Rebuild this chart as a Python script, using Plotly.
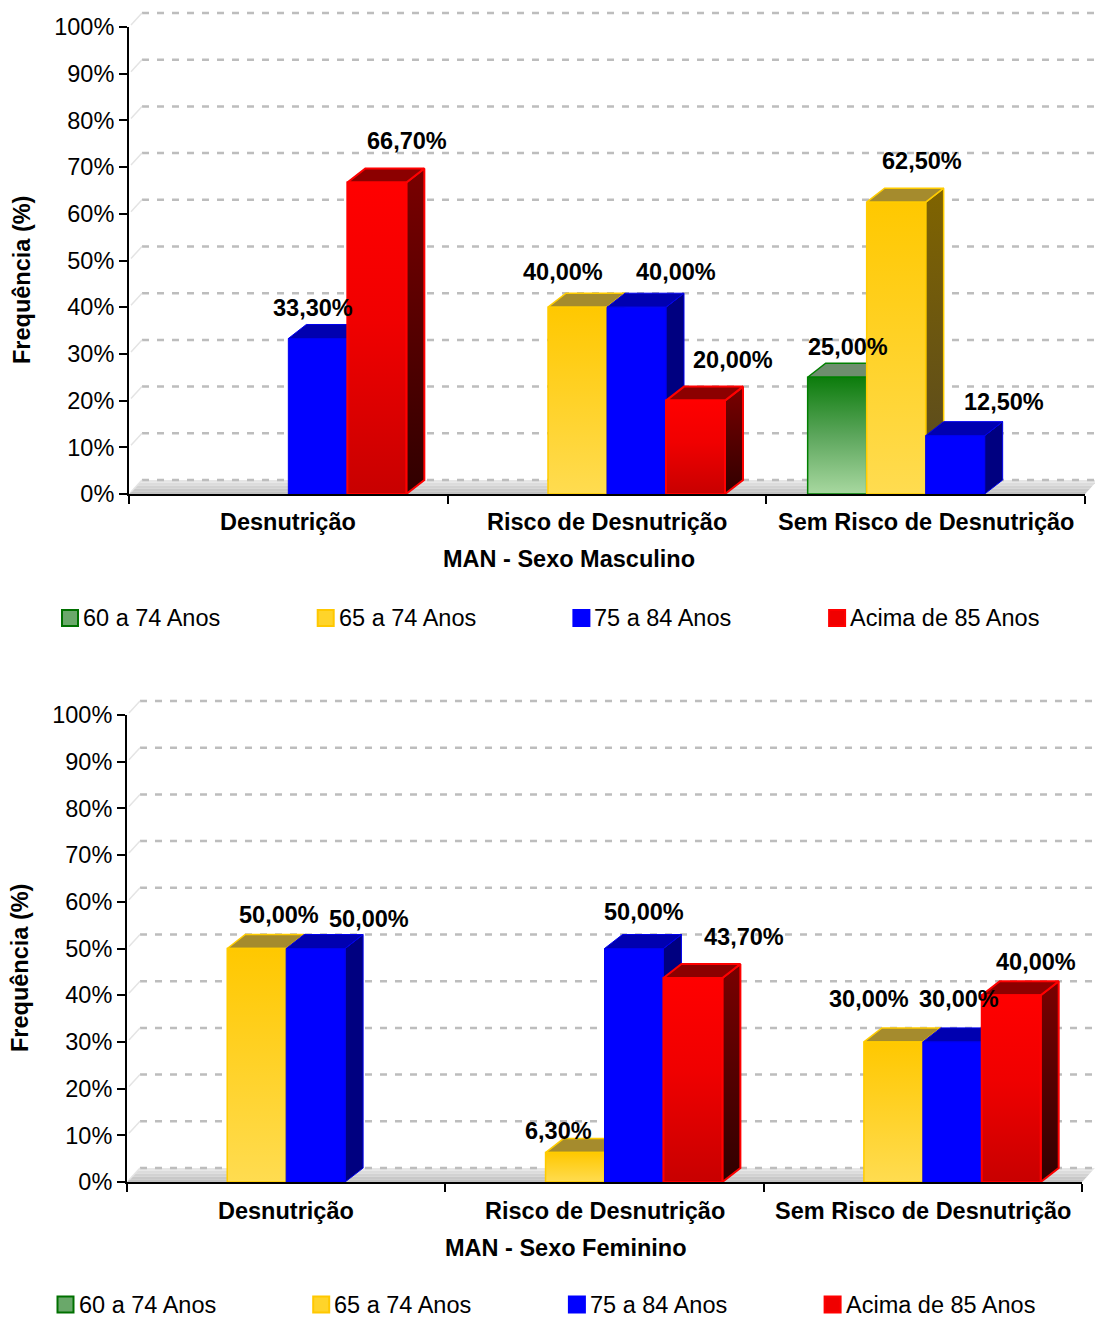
import plotly.graph_objects as go

W, H = 1095, 1318

# ---------------- data ----------------
categories = ["Desnutrição", "Risco de Desnutrição", "Sem Risco de Desnutrição"]
series_names = ["60 a 74 Anos", "65 a 74 Anos", "75 a 84 Anos", "Acima de 85 Anos"]
y_tick_values = [0, 10, 20, 30, 40, 50, 60, 70, 80, 90, 100]

masc_60_74 = [None, None, 25.0]
masc_65_74 = [None, 40.0, 62.5]
masc_75_84 = [33.3, 40.0, 12.5]
masc_85_mais = [66.7, 20.0, None]

fem_60_74 = [None, None, None]
fem_65_74 = [50.0, 6.3, 30.0]
fem_75_84 = [50.0, 50.0, 30.0]
fem_85_mais = [None, 43.7, 40.0]

# ---------------- styles ----------------
FONT = "Liberation Sans"
SERIES_STYLE = [
    dict(front=[[0, "#a8d8a0"], [0.5, "#5ca65c"], [1, "#0c7c0c"]],
         side=[[0, "#003000"], [1, "#005a00"]], top="#6e8e6e",
         line="#008000", lw=1.5, legend_fill="#6aa86a", legend_line="#007000"),
    dict(front=[[0, "#ffdc50"], [1, "#ffc800"]],
         side=[[0, "#564822"], [1, "#806400"]], top="#a58b2d",
         line="#ffcc00", lw=1.5, legend_fill="#ffd42a", legend_line="#ffc800"),
    dict(front=[[0, "#0000ff"], [1, "#0000ff"]],
         side=[[0, "#000080"], [1, "#000080"]], top="#0000b0",
         line="#0000ee", lw=1, legend_fill="#0000ff", legend_line="#0000ff"),
    dict(front=[[0, "#c80000"], [0.55, "#f00000"], [1, "#ff0000"]],
         side=[[0, "#300000"], [1, "#7a0000"]], top="#8c0000",
         line="#ff0000", lw=2, legend_fill="#f00000", legend_line="#ff0000"),
]

# value-label nudges in pixels (dx from front-face centre, dy above front top)
masc_label_shift = [
    [None, None, (11, 30)],
    [None, (-15, 35), (26, 41)],
    [(-5, 30.5), (39, 35), (49, 33.6)],
    [(30, 41.5), (37, 40.6), None],
]
fem_label_shift = [
    [None, None, None],
    [(22.5, 33.5), (-17, 21.6), (-24, 43)],
    [(53, 29.5), (10.5, 36.5), (7, 43)],
    [None, (51.5, 41), (24.5, 33)],
]

panels = [
    dict(series=[masc_60_74, masc_65_74, masc_75_84, masc_85_mais], shifts=masc_label_shift,
         title="MAN - Sexo Masculino", left=129, right=1085, y0=494, y100=27,
         cat_y=522, title_xy=(569, 559), ytitle_xy=(22, 280), legend_y=618, legend_x=62,
         xa="x", ya="y"),
    dict(series=[fem_60_74, fem_65_74, fem_75_84, fem_85_mais], shifts=fem_label_shift,
         title="MAN - Sexo Feminino", left=127, right=1082, y0=1182, y100=715,
         cat_y=1211, title_xy=(566, 1248), ytitle_xy=(20, 968), legend_y=1304.5, legend_x=57.5,
         xa="x2", ya="y2"),
]

GROUP_WIDTH = 0.7406        # fraction of a category occupied by the 4 slots
DEPTH_PX = (18, 14)         # 3D depth of the bars
GRID_OFF_PX = (13, 14)      # offset of the back grid / floor
LEGEND_STEP = 255.7
LEGEND_BOX = 16


def px_y(p, v):
    return p["y0"] - v * (p["y0"] - p["y100"]) / 100.0


def fx(px):
    return px / W


def fy(py):
    return 1 - py / H


fig = go.Figure()
shapes = []
annotations = []

for pi, p in enumerate(panels):
    xa, ya = p["xa"], p["ya"]
    cat_px = (p["right"] - p["left"]) / 3.0
    val_px = (p["y0"] - p["y100"]) / 100.0
    ddx = DEPTH_PX[0] / cat_px
    ddy = DEPTH_PX[1] / val_px
    slot = GROUP_WIDTH / 4.0

    # floor (flat 3D base) as stacked strips, light at the back, darker in front
    gx, gy = GRID_OFF_PX
    strips = ["#e6e6e6", "#dcdcdc", "#d2d2d2", "#c8c8c8", "#c2c2c2"]
    n = len(strips)
    for k, col in enumerate(strips):
        t0 = k / n
        t1 = (k + 1) / n

        def pt(xpx, t):
            return xpx + gx * (1 - t), p["y0"] - gy * (1 - t)
        ax0, ay0 = pt(p["left"], t0)
        ax1, ay1 = pt(p["left"], t1)
        bx0, by0 = pt(p["right"], t0)
        bx1, by1 = pt(p["right"], t1)
        path = (f"M {fx(ax0)},{fy(ay0)} L {fx(bx0)},{fy(by0)} "
                f"L {fx(bx1)},{fy(by1)} L {fx(ax1)},{fy(ay1)} Z")
        shapes.append(dict(type="path", path=path, xref="paper", yref="paper",
                           fillcolor=col, line=dict(width=0), layer="below"))

    # dashed back grid with short connectors to the axis
    for v in y_tick_values:
        yb = px_y(p, v) - gy
        shapes.append(dict(type="line", xref="paper", yref="paper",
                           x0=fx(p["left"] + gx), x1=fx(W + 5), y0=fy(yb), y1=fy(yb),
                           line=dict(color="#bdbdbd", width=2.5, dash="7px,8px"),
                           layer="below"))
        shapes.append(dict(type="line", xref="paper", yref="paper",
                           x0=fx(p["left"] + 2), x1=fx(p["left"] + gx), y0=fy(px_y(p, v) - 2),
                           y1=fy(yb), line=dict(color="#e4e4e4", width=1.5), layer="below"))

    # 3D bars, painted category by category from left to right
    for ci in range(len(categories)):
        for si, vals in enumerate(p["series"]):
            v = vals[ci]
            if v is None:
                continue
            st = SERIES_STYLE[si]
            x0 = ci - GROUP_WIDTH / 2 + si * slot
            x1 = x0 + slot
            common = dict(mode="lines", fill="toself", showlegend=False, hoverinfo="skip",
                          xaxis=xa, yaxis=ya,
                          line=dict(color=st["line"], width=st["lw"]))
            # right side face
            fig.add_trace(go.Scatter(
                x=[x1, x1 + ddx, x1 + ddx, x1, x1], y=[0, ddy, v + ddy, v, 0],
                fillgradient=dict(type="vertical", colorscale=st["side"]), **common))
            # top face
            fig.add_trace(go.Scatter(
                x=[x0, x1, x1 + ddx, x0 + ddx, x0], y=[v, v, v + ddy, v + ddy, v],
                fillcolor=st["top"], **common))
            # front face
            fig.add_trace(go.Scatter(
                x=[x0, x1, x1, x0, x0], y=[0, 0, v, v, 0],
                fillgradient=dict(type="vertical", colorscale=st["front"]), **common))
            # value label
            sh = p["shifts"][si][ci]
            annotations.append(dict(
                x=(x0 + x1) / 2, y=v, xref=xa, yref=ya, showarrow=False,
                text=f"{v:.2f}%".replace(".", ","), xshift=sh[0], yshift=sh[1],
                xanchor="center", yanchor="middle",
                font=dict(family=FONT, size=23.5, color="black", weight="bold")))

    # category labels
    for ci, cat in enumerate(categories):
        annotations.append(dict(x=ci, y=fy(p["cat_y"]), xref=xa, yref="paper", text=cat,
                                showarrow=False, xanchor="center", yanchor="middle",
                                font=dict(family=FONT, size=23.5, color="black", weight="bold")))
    # axis titles
    annotations.append(dict(x=fx(p["title_xy"][0]), y=fy(p["title_xy"][1]), xref="paper",
                            yref="paper", text=p["title"], showarrow=False,
                            xanchor="center", yanchor="middle",
                            font=dict(family=FONT, size=23.5, color="black", weight="bold")))
    annotations.append(dict(x=fx(p["ytitle_xy"][0]), y=fy(p["ytitle_xy"][1]), xref="paper",
                            yref="paper", text="Frequência (%)", showarrow=False, textangle=-90,
                            xanchor="center", yanchor="middle",
                            font=dict(family=FONT, size=23.5, color="black", weight="bold")))

    # legend row
    for si, name in enumerate(series_names):
        st = SERIES_STYLE[si]
        lx = p["legend_x"] + si * LEGEND_STEP
        ly = p["legend_y"]
        half = LEGEND_BOX / 2
        shapes.append(dict(type="rect", xref="paper", yref="paper",
                           x0=fx(lx), x1=fx(lx + LEGEND_BOX), y0=fy(ly - half), y1=fy(ly + half),
                           fillcolor=st["legend_fill"],
                           line=dict(color=st["legend_line"], width=2)))
        annotations.append(dict(x=fx(lx + LEGEND_BOX + 3), y=fy(ly), xref="paper", yref="paper",
                                text=name, showarrow=False, xanchor="left", yanchor="middle",
                                font=dict(family=FONT, size=23.5, color="black")))

axis_common_x = dict(range=[-0.5, 2.5], tickvals=[-0.5, 0.5, 1.5, 2.5], showticklabels=False,
                     ticks="outside", ticklen=8, tickwidth=2, tickcolor="black",
                     showline=True, linewidth=2, linecolor="black", automargin=False,
                     showgrid=False, zeroline=False, fixedrange=True)
axis_common_y = dict(range=[0, 100], tickvals=y_tick_values,
                     ticktext=[f"{v}%" for v in y_tick_values],
                     ticks="outside", ticklen=8, tickwidth=2, tickcolor="black",
                     showline=True, linewidth=2, linecolor="black", automargin=False,
                     tickfont=dict(family=FONT, size=23.5, color="black"),
                     showgrid=False, zeroline=False, fixedrange=True)

p0, p1 = panels
fig.update_layout(
    width=W, height=H,
    margin=dict(l=0, r=0, t=0, b=0, pad=0, autoexpand=False),
    paper_bgcolor="white", plot_bgcolor="rgba(0,0,0,0)",
    showlegend=False,
    xaxis=dict(domain=[fx(p0["left"]), fx(p0["right"])], anchor="y", **axis_common_x),
    yaxis=dict(domain=[fy(p0["y0"]), fy(p0["y100"])], anchor="x", **axis_common_y),
    xaxis2=dict(domain=[fx(p1["left"]), fx(p1["right"])], anchor="y2", **axis_common_x),
    yaxis2=dict(domain=[fy(p1["y0"]), fy(p1["y100"])], anchor="x2", **axis_common_y),
    shapes=shapes,
    annotations=annotations,
)

fig.write_html("out.html")
